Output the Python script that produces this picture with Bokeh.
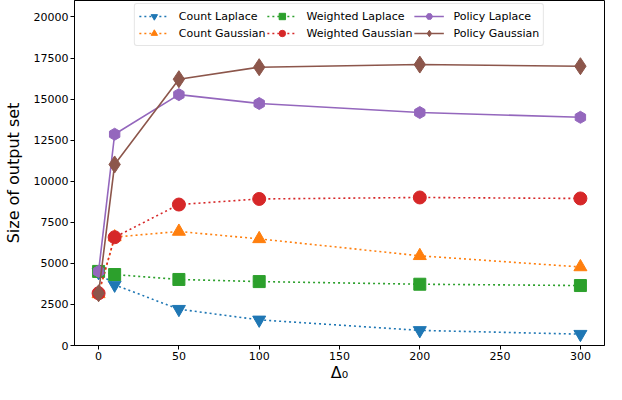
from bokeh.plotting import figure
from bokeh.models import FixedTicker, Legend, LegendItem, Range1d
from bokeh.embed import file_html
from bokeh.resources import INLINE
import math

# ---- data ----
delta0 = [0, 10, 50, 100, 200, 300]
count_laplace = [4450, 3690, 2210, 1560, 920, 690]
count_gaussian = [3140, 6600, 6940, 6490, 5460, 4780]
weighted_laplace = [4510, 4320, 4020, 3890, 3730, 3650]
weighted_gaussian = [3180, 6590, 8580, 8920, 9010, 8950]
policy_laplace = [4510, 12860, 15270, 14730, 14180, 13890]
policy_gaussian = [3180, 11020, 16210, 16940, 17100, 17000]

series_names = ["Count Laplace", "Count Gaussian", "Weighted Laplace",
                "Weighted Gaussian", "Policy Laplace", "Policy Gaussian"]
x_ticks = [0, 50, 100, 150, 200, 250, 300]
y_ticks = [0, 2500, 5000, 7500, 10000, 12500, 15000, 17500, 20000]

FONT = "DejaVu Sans"

p = figure(width=606, height=384, output_backend="svg", toolbar_location=None,
           x_range=Range1d(-15, 315), y_range=Range1d(0, 21000),
           min_border_left=64, min_border_right=2, min_border_top=0, min_border_bottom=20)
p.xgrid.visible = False
p.ygrid.visible = False
p.outline_line_color = "black"
p.outline_line_width = 1
p.background_fill_color = "white"

for ax in (p.xaxis[0], p.yaxis[0]):
    ax.major_tick_out = 4
    ax.major_tick_in = 0
    ax.minor_tick_out = 0
    ax.minor_tick_in = 0
    ax.axis_line_color = "black"
    ax.major_tick_line_color = "black"
    ax.major_label_text_font = FONT
    ax.major_label_text_font_size = "11px"
    ax.major_label_text_color = "black"
    ax.major_label_standoff = 2
    ax.axis_label_text_font = FONT
    ax.axis_label_text_font_style = "normal"
    ax.axis_label_text_font_size = "16px"
    ax.axis_label_text_color = "black"

p.xaxis.ticker = FixedTicker(ticks=x_ticks)
p.yaxis.ticker = FixedTicker(ticks=y_ticks)
p.xaxis.axis_label = "Δ₀"
p.yaxis.axis_label = "Size of output set"
p.xaxis.axis_label_standoff = 0
p.xaxis.axis_label_text_line_height = 1.0
p.xaxis.major_label_text_line_height = 1.0
p.yaxis.axis_label_standoff = 8

styles = [
    (count_laplace, "#1f77b4", "inverted_triangle", 13, "2 3", 0),
    (count_gaussian, "#ff7f0e", "triangle", 13, "2 3", 0),
    (weighted_laplace, "#2ca02c", "square", 12, "2 3", 0),
    (weighted_gaussian, "#d62728", "circle", 13, "2 3", 0),
    (policy_laplace, "#9467bd", "hex", 12, "solid", math.pi / 6),
    (policy_gaussian, "#8c564b", "diamond", 17, "solid", 0),
]

items = []
for name, (ys, col, mk, sz, dash, ang) in zip(series_names, styles):
    ln = p.line(delta0, ys, line_color=col, line_width=1.6, line_dash=dash)
    sc = p.scatter(delta0, ys, marker=mk, size=sz, angle=ang,
                   fill_color=col, line_color=col, line_width=1)
    items.append(LegendItem(label=name, renderers=[ln, sc]))

legend = Legend(items=items, location="top_center", orientation="vertical", nrows=2)
legend.label_text_font = FONT
legend.label_text_font_size = "11px"
legend.label_text_color = "black"
legend.glyph_width = 30
legend.glyph_height = 16
legend.label_height = 16
legend.spacing = 1
legend.padding = 4
legend.margin = 3
legend.label_standoff = 10
legend.border_line_color = "#cccccc"
legend.border_line_width = 1
legend.border_radius = 3
legend.background_fill_alpha = 1
p.add_layout(legend, "center")

open("out.html", "w").write(file_html(p, INLINE))
